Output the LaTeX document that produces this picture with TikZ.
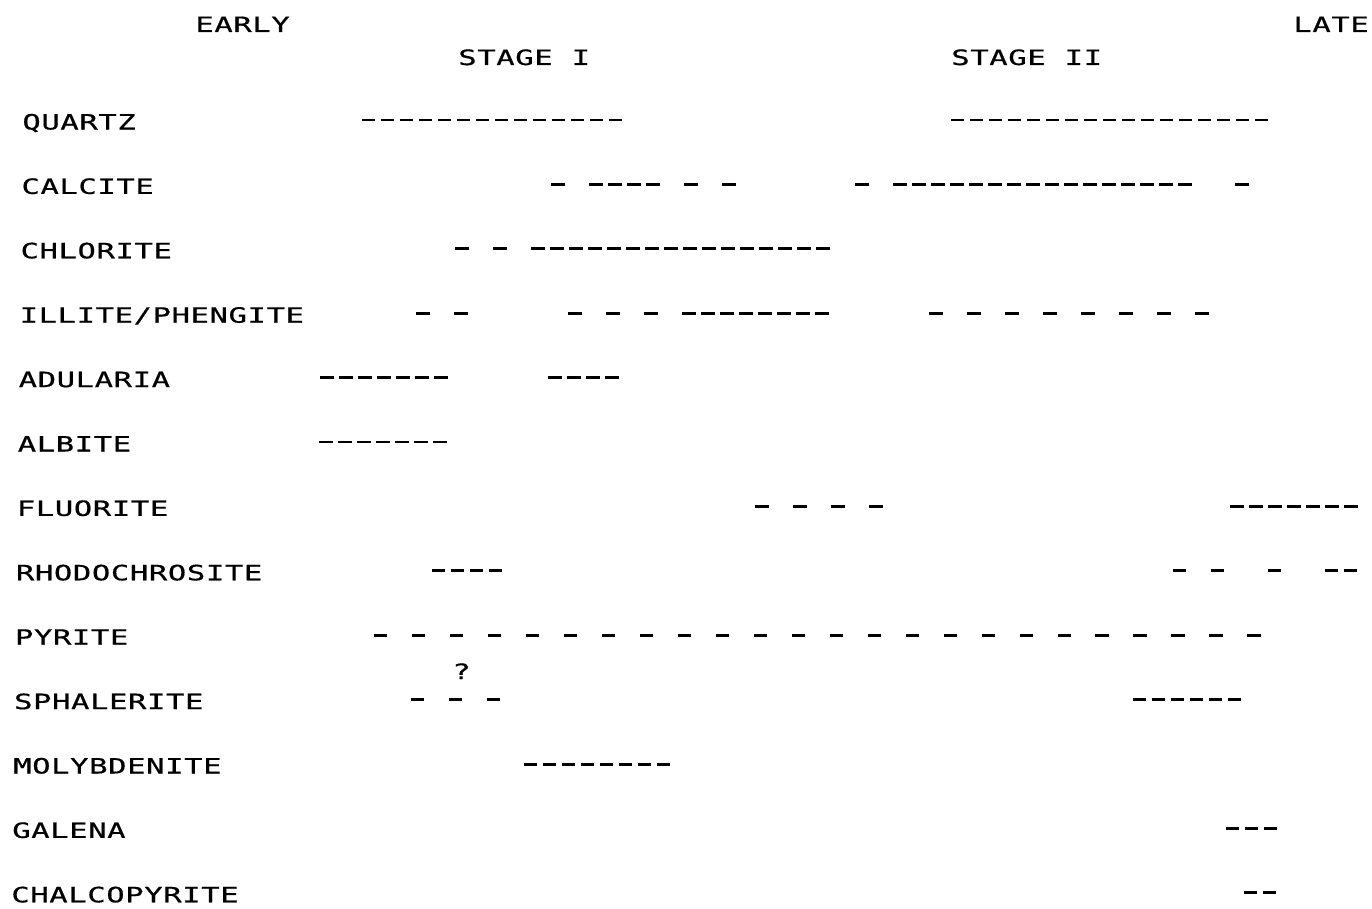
\documentclass[tikz,border=0pt]{standalone}
\usepackage{fontspec}
\newfontfamily\plotterfont[FakeStretch=1.45,LetterSpace=2.8,FakeBold=0.6]{DejaVu Sans Mono}

\begin{document}
\begin{tikzpicture}[x=0.02cm, y=-0.02cm,
  mineral/.style={anchor=base west, inner sep=0pt, font=\plotterfont\fontsize{12}{14}\selectfont},
  phase/.style={line width=1.7pt}]
  \useasboundingbox (0,0) rectangle (1372,909);

  % Grid of the chart (in pixels of the original sheet)
  \def\xo{363.7}
  \def\colw{19.0}
  \def\rowh{64.4}
  \def\dashlen{13.5}

  \begin{scope}[xslant=0.0143]
  % Headings
  \node[mineral] (early) at (195.5,32) {EARLY};
  \node[mineral] (late) at (1293.5,32) {LATE};
  \node[mineral] (stage1) at (458.9,65) {STAGE I};
  \node[mineral] (stage2) at (951.9,65) {STAGE  II};

  % Minerals
  \foreach \r/\name in {0/QUARTZ, 1/CALCITE, 2/CHLORITE, 3/{ILLITE/PHENGITE},
      4/ADULARIA, 5/ALBITE, 6/FLUORITE, 7/RHODOCHROSITE, 8/PYRITE,
      9/SPHALERITE, 10/MOLYBDENITE, 11/GALENA, 12/CHALCOPYRITE} {
    \node[mineral] (m\r) at (23.9,{120+\rowh*\r+9.5}) {\name};
  }

  % Runs of dashes: row / first column / last column / column step
  \foreach \r/\a/\b/\s in {0/0/13/1, 0/31/47/1,
      1/10/10/1, 1/12/15/1, 1/17/19/2, 1/26/26/1, 1/28/43/1, 1/46/46/1,
      2/5/7/2, 2/9/24/1,
      3/3/5/2, 3/11/15/2, 3/17/24/1, 3/30/44/2,
      4/-2/4/1, 4/10/13/1,
      5/-2/4/1,
      6/21/27/2, 6/46/52/1,
      7/4/7/1, 7/43/45/2, 7/48/48/1, 7/51/52/1,
      8/1/47/2,
      9/3/7/2, 9/41/46/1,
      10/9/16/1,
      11/46/48/1,
      12/47/48/1} {
    \pgfmathsetmacro\gap{(\s*\colw-\dashlen)*0.569055}
    \pgfmathsetmacro\dpt{\dashlen*0.569055}
    \draw[phase, dash pattern=on \dpt pt off \gap pt]
      ({\xo+\colw*\a},{120+\rowh*\r}) -- ({\xo+\colw*\b+\dashlen},{120+\rowh*\r});
  }

  % Doubtful sphalerite
  \node[mineral] (query) at (461.7,679) {?};
  \end{scope}
\end{tikzpicture}
\end{document}
